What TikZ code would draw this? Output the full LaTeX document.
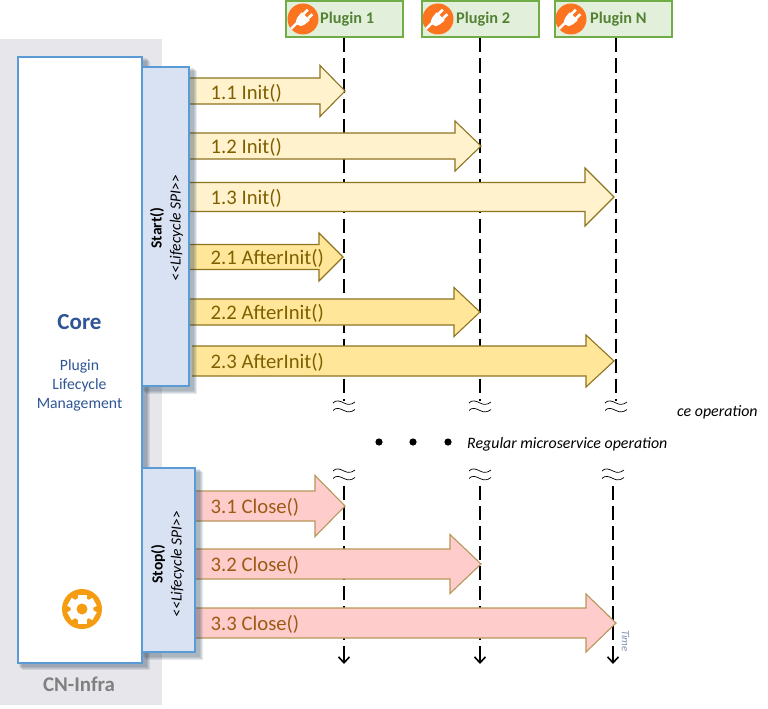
\documentclass[tikz,border=0pt]{standalone}
\usepackage{fontspec}
\setmainfont{Carlito}
\usepackage{xcolor}
\usetikzlibrary{calc,arrows.meta}

\definecolor{infraGray}{HTML}{E7E6EB}
\definecolor{coreBlue}{HTML}{5B9BD5}
\definecolor{spiFill}{HTML}{D9E2F3}
\definecolor{coreText}{HTML}{2F5597}
\definecolor{pluginFill}{HTML}{E2EFDA}
\definecolor{pluginLine}{HTML}{70AD47}
\definecolor{pluginText}{HTML}{548235}
\definecolor{plugOrange}{HTML}{FC7420}
\definecolor{gearOrange}{HTML}{F59C12}
\definecolor{initFill}{HTML}{FFF2CC}
\definecolor{afterFill}{HTML}{FFE699}
\definecolor{closeFill}{HTML}{FFCCCC}
\definecolor{arrowLine}{HTML}{8F7420}
\definecolor{closeLine}{HTML}{B8975A}
\definecolor{labelBrown}{HTML}{7F6000}
\definecolor{closeBrown}{HTML}{9C5B14}
\definecolor{timeText}{HTML}{8497B0}

\tikzset{
  corebox/.style={draw=coreBlue, line width=2.5pt, fill=white, inner sep=0pt},
  spibox/.style={draw=coreBlue, line width=2pt, fill=spiFill, inner sep=0pt},
  pluginbox/.style={draw=pluginLine, line width=2pt, fill=pluginFill, inner sep=0pt,
    minimum width=117pt, minimum height=36pt},
  pluginlabel/.style={text=pluginText, font=\fontsize{16.3}{18}\selectfont\bfseries, anchor=west, inner sep=0pt},
  lifeline/.style={line width=2.2pt, dash pattern=on 14pt off 6pt},
  lifeend/.style={line width=1.6pt, -{Straight Barb[length=6pt,width=11pt]}},
  calllabel/.style={font=\fontsize{20.7}{22}\selectfont, anchor=west, inner sep=0pt},
  spilabel/.style={rotate=90, align=center, font=\fontsize{15.5}{19}\selectfont, inner sep=0pt},
  notelabel/.style={font=\fontsize{15.9}{18}\selectfont\itshape, anchor=west, inner sep=0pt},
  initcall/.style={draw=arrowLine, fill=initFill},
  aftercall/.style={draw=arrowLine, fill=afterFill},
  closecall/.style={draw=closeLine, fill=closeFill}
}

% block arrow: x start, x tip, y centre, body half height, head half height, head length
\newcommand{\callarrow}[7]{
  \draw [#7, line width=1.1pt, line join=miter]
    (#1,#3-#4) -- (#2-#6,#3-#4) -- (#2-#6,#3-#5) -- (#2,#3)
    -- (#2-#6,#3+#5) -- (#2-#6,#3+#4) -- (#1,#3+#4);
}
% soft shadow behind a box
\newcommand{\softshadow}[4]{
  \foreach \d in {1,2,3,4}
    \fill [black!60!coreBlue, opacity=0.11] (#1+\d,#2+\d) rectangle (#3+\d,#4+\d);
}
% lifeline break mark
\newcommand{\breakmark}[2]{
  \foreach \dy in {0,7.5}
    \draw [line width=0.7pt] (#1-11,#2+\dy)
      .. controls (#1-8,#2+\dy-3.5) and (#1-4,#2+\dy-2) .. (#1,#2+\dy)
      .. controls (#1+4,#2+\dy+2) and (#1+7,#2+\dy+2) .. (#1+11,#2+\dy-1);
}
% plugin icon
\newcommand{\plugicon}[2]{
  \fill [plugOrange] (#1,#2) circle (15.5);
  \begin{scope}[shift={(#1,#2)}, rotate=45, white]
    \draw [line width=2.4pt] (-15.5,-1.5) -- (-6,-1.5) .. controls (-4,-1.5) and (-3,-1) .. (-2,0);
    \fill (-3,-5) -- (1,-5.5) -- (1,5.5) -- (-3,5) arc[start angle=90,end angle=270,radius=5];
    \fill (1,-5.5) rectangle (4,5.5);
    \fill (4,-4.5) rectangle (10,-1.8);
    \fill (4,1.8) rectangle (10,4.5);
  \end{scope}
}

\begin{document}
\begin{tikzpicture}[x=1pt,y=-1pt]
  \useasboundingbox (0,0) rectangle (768,709);
  \fill [white] (0,0) rectangle (768,709);

  % Background of the core
  \fill [infraGray] (0,39) rectangle (162,705);
  \node [text=black!50, font=\fontsize{20.9}{22}\selectfont\bfseries] (infra) at (79,684) {CN-Infra};

  % Plugins
  \node [pluginbox] (plugin1) at (344,19.5) {};
  \node [pluginbox] (plugin2) at (480,19.5) {};
  \node [pluginbox] (plugin3) at (613,19.5) {};
  \plugicon{303}{19}
  \plugicon{438}{19}
  \plugicon{571}{19}
  \node [pluginlabel] (pluginname1) at (320,19) {Plugin 1};
  \node [pluginlabel] (pluginname2) at (456,19) {Plugin 2};
  \node [pluginlabel] (pluginname3) at (590,19) {Plugin N};

  % Lifelines, upper part
  \coordinate (upper1) at (344,401);
  \coordinate (upper2) at (480,401);
  \coordinate (upper3) at (616,401);
  \draw [lifeline] (plugin1.south) -- (upper1);
  \draw [lifeline] (plugin2.south) -- (upper2);
  \draw [lifeline] (plugin3.south -| upper3) -- (upper3);
  \breakmark{344}{403}
  \breakmark{480}{403}
  \breakmark{616}{403}

  % Lifelines, lower part
  \breakmark{344}{471}
  \breakmark{480}{471}
  \breakmark{613}{471}
  \coordinate (lower1) at (344,486);
  \coordinate (lower2) at (480,486);
  \coordinate (lower3) at (613,486);
  \coordinate (end1) at (344,664);
  \coordinate (end2) at (480,664);
  \coordinate (end3) at (613,664);
  \draw [lifeline] (lower1) -- ($(end1)+(0,-4)$);
  \draw [lifeline] (lower2) -- ($(end2)+(0,-4)$);
  \draw [lifeline] (lower3) -- ($(end3)+(0,-4)$);
  \draw [lifeend] ($(end1)+(0,-8)$) -- (end1);
  \draw [lifeend] ($(end2)+(0,-8)$) -- (end2);
  \draw [lifeend] ($(end3)+(0,-8)$) -- (end3);

  % Regular operation
  \fill (379,442) circle (3.6);
  \fill (413,442) circle (3.6);
  \fill (448,442) circle (3.6);
  \node [notelabel] (regular) at (467,444) {Regular microservice operation};
  \node [notelabel] (regularcut) at (677,412) {ce operation};

  % Calls
  \callarrow{190}{345}{91}{13}{25.5}{25}{initcall}
  \callarrow{190}{481}{146}{13}{25}{26}{initcall}
  \callarrow{190}{614}{197}{14.5}{29}{29}{initcall}
  \callarrow{190}{343}{257}{12.5}{24}{24}{aftercall}
  \callarrow{190}{480}{312}{13}{24.5}{26}{aftercall}
  \callarrow{192}{614}{361}{15}{26}{28}{aftercall}
  \callarrow{195}{345}{506}{15}{30.5}{30}{closecall}
  \callarrow{195}{481}{564}{15}{29.5}{31}{closecall}
  \callarrow{195}{616}{623}{15}{29}{30}{closecall}

  \node [calllabel, text=labelBrown] (call11) at (210.5,93) {1.1 Init()};
  \node [calllabel, text=labelBrown] (call12) at (210.5,147) {1.2 Init()};
  \node [calllabel, text=labelBrown] (call13) at (210.5,198) {1.3 Init()};
  \node [calllabel, text=labelBrown] (call21) at (210.5,258) {2.1 AfterInit()};
  \node [calllabel, text=labelBrown] (call22) at (210.5,313) {2.2 AfterInit()};
  \node [calllabel, text=labelBrown] (call23) at (210.5,362) {2.3 AfterInit()};
  \node [calllabel, text=closeBrown] (call31) at (210.5,507) {3.1 Close()};
  \node [calllabel, text=closeBrown] (call32) at (210.5,565) {3.2 Close()};
  \node [calllabel, text=closeBrown] (call33) at (210.5,624) {3.3 Close()};

  % Core and its SPI boxes
  \softshadow{18}{57}{146}{666}
  \softshadow{142}{67}{193}{390}
  \softshadow{142}{468}{199}{656}
  \node [spibox, minimum width=47pt, minimum height=319pt] (start) at (165.5,226.5) {};
  \node [spibox, minimum width=53pt, minimum height=184pt] (stop) at (168.5,560) {};
  \node [corebox, minimum width=124pt, minimum height=606pt] (core) at (80,360) {};

  \node [spilabel] (startname) at (166.5,228) {\textbf{Start()}\\\textit{<{}<Lifecycle SPI>{}>}};
  \node [spilabel] (stopname) at (167.5,564) {\textbf{Stop()}\\\textit{<{}<Lifecycle SPI>{}>}};

  \node [text=coreText, font=\fontsize{23}{26}\selectfont\bfseries] (corename) at (79.5,322.5) {Core};
  \node [text=coreText, align=center, font=\fontsize{15.7}{19}\selectfont] (coreinfo) at (79.5,385) {Plugin\\Lifecycle\\Management};

  % Gear
  \fill [gearOrange] (82,609) circle (20);
  \foreach \a in {0,60,...,300}
    \fill [white, rotate around={\a:(82,609)}] (77.5,594.5) rectangle (86.5,602);
  \fill [white] (82,609) circle (11.5);
  \fill [gearOrange] (82,609) circle (5.5);

  % Time
  \node [rotate=-90, text=timeText, font=\fontsize{11}{12}\selectfont\itshape, inner sep=0pt] (timeaxis) at (625.5,641) {Time};
\end{tikzpicture}
\end{document}
